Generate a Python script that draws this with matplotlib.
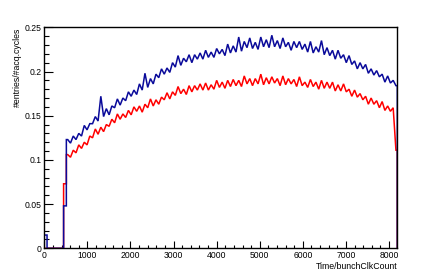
import numpy as np
import matplotlib
matplotlib.use("Agg")
import matplotlib.pyplot as plt
from matplotlib.ticker import MultipleLocator, FormatStrFormatter

# =============================================================================
# Data (histogram, 128 bins of 64 clock counts)
# =============================================================================

X_MAX = 8192
BIN_WIDTH = 64
ONSET_BINS = 8  # bins before the beam arrives are drawn as plain steps

blue_counts = [
    0.015, 0.0, 0.0, 0.0, 0.0, 0.0, 0.0, 0.048,
    0.123, 0.119, 0.127, 0.123, 0.130, 0.127, 0.139, 0.134,
    0.141, 0.141, 0.149, 0.144, 0.172, 0.149, 0.158, 0.151,
    0.161, 0.159, 0.169, 0.162, 0.170, 0.167, 0.177, 0.172,
    0.179, 0.174, 0.186, 0.179, 0.198, 0.182, 0.192, 0.186,
    0.197, 0.193, 0.203, 0.197, 0.204, 0.199, 0.210, 0.205,
    0.218, 0.207, 0.215, 0.211, 0.219, 0.210, 0.219, 0.214,
    0.221, 0.214, 0.224, 0.216, 0.222, 0.216, 0.226, 0.220,
    0.225, 0.218, 0.231, 0.221, 0.229, 0.222, 0.239, 0.223,
    0.234, 0.227, 0.238, 0.226, 0.233, 0.225, 0.239, 0.228,
    0.236, 0.227, 0.241, 0.228, 0.235, 0.226, 0.238, 0.228,
    0.233, 0.224, 0.234, 0.227, 0.234, 0.225, 0.231, 0.222,
    0.234, 0.221, 0.228, 0.222, 0.235, 0.219, 0.227, 0.218,
    0.224, 0.214, 0.224, 0.215, 0.219, 0.210, 0.218, 0.208,
    0.212, 0.203, 0.210, 0.203, 0.208, 0.198, 0.203, 0.196,
    0.201, 0.194, 0.197, 0.188, 0.195, 0.187, 0.190, 0.184,
]

red_counts = [
    0.0, 0.0, 0.0, 0.0, 0.0, 0.0, 0.0, 0.073,
    0.106, 0.103, 0.111, 0.108, 0.117, 0.113, 0.120, 0.117,
    0.127, 0.125, 0.135, 0.129, 0.137, 0.132, 0.140, 0.138,
    0.146, 0.142, 0.152, 0.146, 0.152, 0.148, 0.156, 0.151,
    0.160, 0.155, 0.161, 0.154, 0.163, 0.159, 0.169, 0.161,
    0.168, 0.163, 0.171, 0.168, 0.176, 0.169, 0.177, 0.173,
    0.183, 0.175, 0.180, 0.174, 0.184, 0.177, 0.184, 0.179,
    0.186, 0.179, 0.187, 0.179, 0.185, 0.180, 0.190, 0.182,
    0.188, 0.181, 0.190, 0.183, 0.191, 0.184, 0.190, 0.183,
    0.195, 0.186, 0.192, 0.184, 0.192, 0.186, 0.197, 0.185,
    0.193, 0.186, 0.194, 0.187, 0.192, 0.184, 0.195, 0.185,
    0.192, 0.186, 0.191, 0.183, 0.194, 0.184, 0.188, 0.182,
    0.191, 0.183, 0.188, 0.180, 0.190, 0.181, 0.188, 0.181,
    0.188, 0.178, 0.185, 0.178, 0.186, 0.177, 0.180, 0.172,
    0.179, 0.171, 0.175, 0.168, 0.172, 0.163, 0.170, 0.163,
    0.167, 0.159, 0.166, 0.156, 0.161, 0.155, 0.159, 0.111,
]

X_TITLE = "Time/bunchClkCount"
Y_TITLE = "#entries/#acq.cycles"


def hist_polyline(counts, bin_width, x_max, n_steps):
    # steps for the onset bins, then connect bin centres,
    # close with the histogram edge at the right end
    counts = np.asarray(counts, dtype=float)
    edges = np.arange(len(counts) + 1) * bin_width
    centres = edges[:-1] + bin_width / 2

    xs = [0.0]
    ys = [0.0]
    for i in range(n_steps):
        xs += [edges[i], edges[i + 1]]
        ys += [counts[i], counts[i]]
    xs += [edges[n_steps]]
    ys += [counts[n_steps]]
    xs += list(centres[n_steps:])
    ys += list(counts[n_steps:])
    xs += [x_max, x_max]
    ys += [counts[-1], 0.0]
    return np.array(xs), np.array(ys)


# =============================================================================
# Plot
# =============================================================================

plt.rcParams["font.family"] = ["Liberation Sans", "DejaVu Sans"]

fig = plt.figure(figsize=(4.42, 2.77), dpi=100)
ax = fig.add_axes([0.1002, 0.1036, 0.7987, 0.7978])

for counts, colour in [(red_counts, "#ff0000"), (blue_counts, "#0a0a9a")]:
    x, y = hist_polyline(counts, BIN_WIDTH, X_MAX, ONSET_BINS)
    ax.plot(x, y, color=colour, linewidth=1.1, solid_joinstyle="miter")

ax.set_xlim(0, X_MAX)
ax.set_ylim(0, 0.25)

ax.xaxis.set_major_locator(MultipleLocator(1000))
ax.xaxis.set_minor_locator(MultipleLocator(200))
ax.yaxis.set_major_locator(MultipleLocator(0.05))
ax.yaxis.set_minor_locator(MultipleLocator(0.01))
ax.yaxis.set_major_formatter(FormatStrFormatter("%g"))

ax.tick_params(axis="both", which="both", direction="in", labelsize=6.2,
               width=0.8, colors="black")
ax.tick_params(axis="y", which="major", length=6.5, pad=2)
ax.tick_params(axis="y", which="minor", length=3.4)
ax.tick_params(axis="x", which="major", length=4.8, pad=2.2)
ax.tick_params(axis="x", which="minor", length=2.4)

for side in ax.spines.values():
    side.set_linewidth(1.0)

ax.set_xlabel(X_TITLE, fontsize=6.3, loc="right", labelpad=1.5)
ax.set_ylabel(Y_TITLE, fontsize=6.3, loc="top", labelpad=2)

fig.savefig("out.png", dpi=100)
